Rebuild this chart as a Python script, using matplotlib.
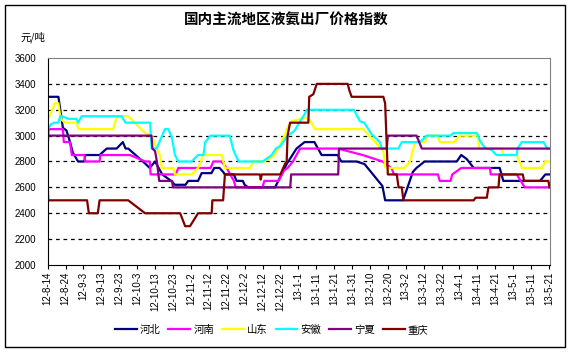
import numpy as np
import matplotlib
matplotlib.use('Agg')
import matplotlib.pyplot as plt
from matplotlib.patches import Rectangle

plt.rcParams['font.family'] = ['Liberation Sans', 'Noto Sans CJK SC']

# osie
tick_labels = ['12-8-14', '12-8-24', '12-9-3', '12-9-13', '12-9-23', '12-10-3', '12-10-13',
               '12-10-23', '12-11-2', '12-11-12', '12-11-22', '12-12-2', '12-12-12', '12-12-22',
               '13-1-1', '13-1-11', '13-1-21', '13-1-31', '13-2-10', '13-2-20', '13-3-2',
               '13-3-12', '13-3-22', '13-4-1', '13-4-11', '13-4-21', '13-5-1', '13-5-11', '13-5-21']
yticks = [2000, 2200, 2400, 2600, 2800, 3000, 3200, 3400, 3600]

names = ['河北', '河南', '山东', '安徽', '宁夏', '重庆']
colors = ['#000080', '#FF00FF', '#FFFF00', '#00FFFF', '#800080', '#800000']

# (dzien od 12-8-14, cena)
hebei = [(0, 3300), (6, 3300), (8.5, 3060), (10.5, 3040), (12.5, 2950), (14, 2870), (17, 2800),
         (20.5, 2800), (21, 2850), (29, 2850), (33, 2900), (38.5, 2900), (42, 2950), (43.5, 2900),
         (45, 2900), (54, 2790), (57, 2750), (60, 2800), (64, 2700), (69, 2650), (71, 2620),
         (77, 2620), (78.5, 2650), (84, 2650), (86, 2710), (91.5, 2710), (93, 2750), (96, 2750),
         (98, 2720), (99, 2700), (104, 2700), (105.5, 2650), (109, 2650), (110, 2620), (112, 2600),
         (127, 2600), (133.5, 2780), (139, 2900), (143.5, 2950), (149, 2950), (153, 2850),
         (162, 2850), (164, 2800), (172.5, 2800), (177, 2780), (187, 2610), (188.5, 2500),
         (198.5, 2500), (201, 2600), (204, 2720), (206, 2750), (210.5, 2800), (228.5, 2800),
         (231, 2850), (234, 2820), (238, 2750), (252.5, 2750), (254.5, 2650), (275, 2650),
         (278, 2700), (281, 2700)]
henan = [(0, 2900), (0.5, 3050), (8.5, 3050), (9, 2950), (12.5, 2950), (13.5, 2850), (20.5, 2850),
         (21, 2800), (29, 2800), (29.5, 2850), (46, 2850), (54.5, 2800), (57, 2800), (57.5, 2700),
         (71.5, 2700), (73, 2750), (91, 2750), (92.5, 2800), (97, 2800), (100, 2750), (104, 2650),
         (105, 2600), (120, 2600), (121, 2650), (129, 2650), (132, 2730), (134, 2750), (137, 2800),
         (139, 2850), (141, 2900), (162, 2900), (176, 2850), (187, 2800), (192, 2750), (193.5, 2700),
         (218, 2700), (219, 2650), (225, 2650), (226, 2700), (231, 2750), (247, 2750), (247.5, 2700),
         (262, 2700), (266.5, 2600), (281, 2600)]
shandong = [(0, 3120), (4, 3250), (6, 3250), (7, 3150), (8, 3120), (9.7, 3100), (16.2, 3100),
            (17.1, 3050), (36.6, 3050), (38.5, 3140), (42, 3150), (45, 3150), (54.4, 3020),
            (58, 3000), (61, 2900), (62.7, 2850), (63.7, 2750), (70.2, 2750), (71.1, 2700),
            (80.4, 2700), (84, 2750), (87, 2850), (97.2, 2850), (99, 2750), (113, 2750), (114.9, 2800),
            (121, 2800), (126, 2840), (128, 2880), (132.6, 3010), (134.4, 3075), (136.3, 3110),
            (143.7, 3140), (146.5, 3120), (149.3, 3050), (176.3, 3050), (181, 2980), (187.5, 2880),
            (188.5, 2760), (189.4, 2750), (199.4, 2750), (202.4, 2800), (204.3, 2900), (205.2, 2950),
            (211, 2950), (212, 3000), (218, 3000), (219, 2950), (227, 2950), (230, 3000), (240.5, 3000),
            (241, 2900), (253.5, 2900), (254.5, 2850), (262, 2850), (265, 2750), (276, 2750),
            (278, 2800), (281, 2800)]
anhui = [(0, 3050), (2, 3090), (4, 3100), (6, 3100), (7, 3150), (8, 3150), (11.5, 3130), (16, 3130),
         (17, 3100), (19, 3150), (41.3, 3150), (43.5, 3100), (57.2, 3100), (58.1, 2900), (60.9, 2900),
         (62.7, 2960), (65.5, 3050), (67.4, 3050), (69.3, 2990), (71.1, 2850), (73, 2800), (80.4, 2800),
         (84, 2850), (87, 2850), (88, 2950), (91, 3000), (101.7, 3000), (103.7, 2890), (105.6, 2830),
         (106.8, 2800), (120, 2800), (124.2, 2840), (125.1, 2850), (127.5, 2900), (130, 2920),
         (133.5, 2990), (138, 3040), (141, 3110), (143.7, 3170), (144.7, 3200), (171, 3200),
         (174.5, 3110), (176.8, 3100), (181, 3010), (185.6, 2950), (186.6, 2900), (195.9, 2900),
         (197.8, 2950), (208, 2950), (211.7, 3000), (225.1, 3000), (226.6, 3020), (239.8, 3020),
         (241.5, 2960), (243.4, 2920), (245, 2900), (248, 2890), (249.9, 2860), (250.8, 2850),
         (262, 2850), (262.5, 2900), (264.8, 2950), (277, 2950), (279, 2900), (281, 2900)]
ningxia = [(0, 3000), (58, 3000), (58.5, 2900), (60, 2880), (61, 2800), (62.3, 2650), (69.5, 2650),
           (70, 2600), (135.5, 2600), (136, 2700), (162.3, 2700), (162.7, 2900), (189.4, 2900),
           (190, 3000), (206, 3000), (209, 2900), (281, 2900)]
chongqing = [(0, 2650), (0.3, 2500), (22, 2500), (23, 2400), (28, 2400), (29, 2500), (45, 2500),
             (54.4, 2400), (74, 2400), (76.8, 2300), (79.5, 2300), (84, 2400), (91.6, 2400), (92, 2500),
             (98, 2500), (99, 2700), (118.6, 2700), (119, 2660), (119.6, 2700), (130, 2700),
             (132.5, 2780), (133.5, 2800), (134, 3000), (135.4, 3100), (145.6, 3100), (146.1, 3300),
             (148.4, 3320), (150.3, 3400), (167.6, 3400), (168.5, 3350), (169.8, 3300), (187.5, 3300),
             (188.5, 3250), (190, 2700), (195, 2700), (196, 2600), (197.8, 2600), (198.7, 2500),
             (238, 2500), (239, 2520), (245.3, 2520), (246.2, 2600), (251.8, 2600), (252.4, 2700),
             (265.4, 2700), (266.1, 2650), (279.7, 2650), (280.3, 2600)]
series = [hebei, henan, shandong, anhui, ningxia, chongqing]

fig = plt.figure(figsize=(5.73, 3.53), dpi=100)
fig.patches.append(Rectangle((5 / 573, 1 - 347 / 353), 560 / 573, 342 / 353,
                             transform=fig.transFigure, fill=False, edgecolor='black', lw=1))
ax = fig.add_axes([0.0832, 0.2493, 0.8767, 0.5864])

for lvl in yticks[1:-1]:
    ax.axhline(lvl, color='black', lw=0.9, linestyle=(0, (3, 3)), zorder=1)

for data, name, c in zip(series, names, colors):
    xs, ys = zip(*data)
    ax.plot(xs, ys, color=c, lw=1.6, label=name, zorder=2)

ax.set_xlim(0, 280.6)
ax.set_ylim(2000, 3600)
ax.set_yticks(yticks)
ax.set_yticklabels([str(v) for v in yticks], fontsize=7)
ax.set_xticks(np.arange(len(tick_labels)) * 10)
ax.set_xticklabels(tick_labels, rotation=90, fontsize=7)
ax.tick_params(axis='both', length=3, width=0.8, direction='out', pad=2)
ax.tick_params(axis='y', length=0, pad=8)
for s in ['top', 'right']:
    ax.spines[s].set_color('#808080')
for s in ['left', 'bottom']:
    ax.spines[s].set_color('black')

fig.text(0.5, 0.943, '国内主流地区液氨出厂价格指数', ha='center', va='center',
         fontsize=10.5, fontweight='bold', family='Noto Sans CJK SC')
fig.text(0.035, 0.895, '元/吨', ha='left', va='center', fontsize=7.5, family='Noto Sans CJK SC')

fig.legend(loc='center', bbox_to_anchor=(0.474, 0.066), ncol=6, frameon=False,
           prop={'family': 'Noto Sans CJK SC', 'size': 7.5},
           handlelength=2.1, handletextpad=0.3, columnspacing=0.75)

fig.savefig('out.png', dpi=100)
